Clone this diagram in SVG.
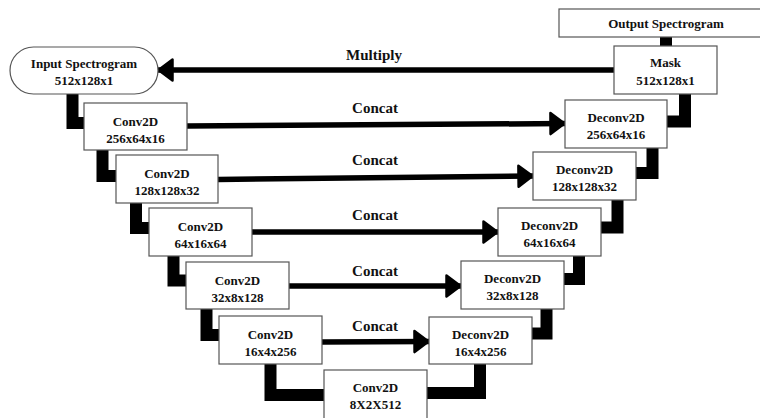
<svg xmlns="http://www.w3.org/2000/svg" width="760" height="418" viewBox="0 0 760 418">
<defs>
<style>
.box{fill:#fff;stroke:#555;stroke-width:1.2}
.t{font-family:'Liberation Serif','Times New Roman',serif;font-weight:700;font-size:13px;fill:#111;text-anchor:middle}
.lbl{font-family:'Liberation Serif','Times New Roman',serif;font-weight:700;font-size:15px;fill:#111;text-anchor:middle}
.arr{fill:none;stroke:#000;stroke-width:5.5}
.thick{fill:none;stroke:#000;stroke-width:12;stroke-linejoin:miter}
</style>
<marker id="ah" markerUnits="userSpaceOnUse" viewBox="0 0 17 24" markerWidth="17" markerHeight="24" refX="16" refY="12" orient="auto" overflow="visible">
<path d="M1.5,1.5 L15.5,12 L1.5,22.5 Z" fill="#000" stroke="#000" stroke-width="2.5" stroke-linejoin="round"/>
</marker>
</defs>
<rect width="760" height="418" fill="#fff"/>

<g id="connectors">
<line class="arr" x1="614" y1="70" x2="158" y2="70" marker-end="url(#ah)"/>
<line class="arr" x1="187" y1="126" x2="565" y2="123.5" marker-end="url(#ah)"/>
<line class="arr" x1="218" y1="179.5" x2="533" y2="176" marker-end="url(#ah)"/>
<line class="arr" x1="252" y1="232" x2="498" y2="232" marker-end="url(#ah)"/>
<line class="arr" x1="289" y1="286" x2="461" y2="286" marker-end="url(#ah)"/>
<line class="arr" x1="322" y1="342" x2="429" y2="341.5" marker-end="url(#ah)"/>
<path class="thick" d="M72.5,94 V123 H84"/>
<path class="thick" d="M102.5,150 V176 H116"/>
<path class="thick" d="M136,203 V228 H149"/>
<path class="thick" d="M173.5,256 V280.5 H186"/>
<path class="thick" d="M206.5,309 V335 H219"/>
<path class="thick" d="M270.5,364 V395 H324"/>
<path class="thick" d="M427,393 H480 V364"/>
<path class="thick" d="M532,333.5 H546.5 V309"/>
<path class="thick" d="M564,279 H579 V256"/>
<path class="thick" d="M601,227.5 H617.5 V200"/>
<path class="thick" d="M636,173 H652.5 V148"/>
<path class="thick" d="M667,121.5 H685 V94"/>
<path class="thick" d="M666,37 V46"/>
</g>

<g id="labels" font-family="Liberation Serif, serif">
<text class="lbl" x="374" y="60">Multiply</text>
<text class="lbl" x="375" y="113">Concat</text>
<text class="lbl" x="375" y="165">Concat</text>
<text class="lbl" x="375" y="220">Concat</text>
<text class="lbl" x="375" y="276">Concat</text>
<text class="lbl" x="375" y="331">Concat</text>
</g>

<g id="input">
<rect class="box" x="10" y="47" width="148" height="47" rx="23.5" ry="23.5"/>
<text class="t" x="84" y="68">Input Spectrogram</text>
<text class="t" x="84" y="85">512x128x1</text>
</g>
<g id="conv1">
<rect class="box" x="84" y="103" width="103" height="47"/>
<text class="t" x="135.5" y="126">Conv2D</text>
<text class="t" x="135.5" y="143">256x64x16</text>
</g>
<g id="conv2">
<rect class="box" x="116" y="155" width="102" height="48"/>
<text class="t" x="167" y="178">Conv2D</text>
<text class="t" x="167" y="195">128x128x32</text>
</g>
<g id="conv3">
<rect class="box" x="149" y="208" width="103" height="48"/>
<text class="t" x="200.5" y="231">Conv2D</text>
<text class="t" x="200.5" y="248">64x16x64</text>
</g>
<g id="conv4">
<rect class="box" x="186" y="262" width="103" height="47"/>
<text class="t" x="237.5" y="285">Conv2D</text>
<text class="t" x="237.5" y="302">32x8x128</text>
</g>
<g id="conv5">
<rect class="box" x="219" y="316" width="103" height="48"/>
<text class="t" x="270.5" y="339">Conv2D</text>
<text class="t" x="270.5" y="356">16x4x256</text>
</g>
<g id="bottleneck">
<rect class="box" x="324" y="370" width="103" height="55"/>
<text class="t" x="375.5" y="392">Conv2D</text>
<text class="t" x="375.5" y="409">8X2X512</text>
</g>
<g id="deconv5">
<rect class="box" x="429" y="317" width="103" height="47"/>
<text class="t" x="480.5" y="339">Deconv2D</text>
<text class="t" x="480.5" y="356">16x4x256</text>
</g>
<g id="deconv4">
<rect class="box" x="461" y="261" width="103" height="48"/>
<text class="t" x="512.5" y="283">Deconv2D</text>
<text class="t" x="512.5" y="300">32x8x128</text>
</g>
<g id="deconv3">
<rect class="box" x="498" y="208" width="103" height="48"/>
<text class="t" x="549.5" y="230">Deconv2D</text>
<text class="t" x="549.5" y="247">64x16x64</text>
</g>
<g id="deconv2">
<rect class="box" x="533" y="152" width="103" height="48"/>
<text class="t" x="584.5" y="174">Deconv2D</text>
<text class="t" x="584.5" y="191">128x128x32</text>
</g>
<g id="deconv1">
<rect class="box" x="565" y="100" width="102" height="48"/>
<text class="t" x="616" y="122">Deconv2D</text>
<text class="t" x="616" y="139">256x64x16</text>
</g>
<g id="mask">
<rect class="box" x="614" y="46" width="103" height="48"/>
<text class="t" x="665.5" y="67">Mask</text>
<text class="t" x="665.5" y="85">512x128x1</text>
</g>
<g id="output">
<rect class="box" x="559" y="9" width="215" height="28"/>
<text class="t" x="666" y="28">Output Spectrogram</text>
</g>
</svg>
